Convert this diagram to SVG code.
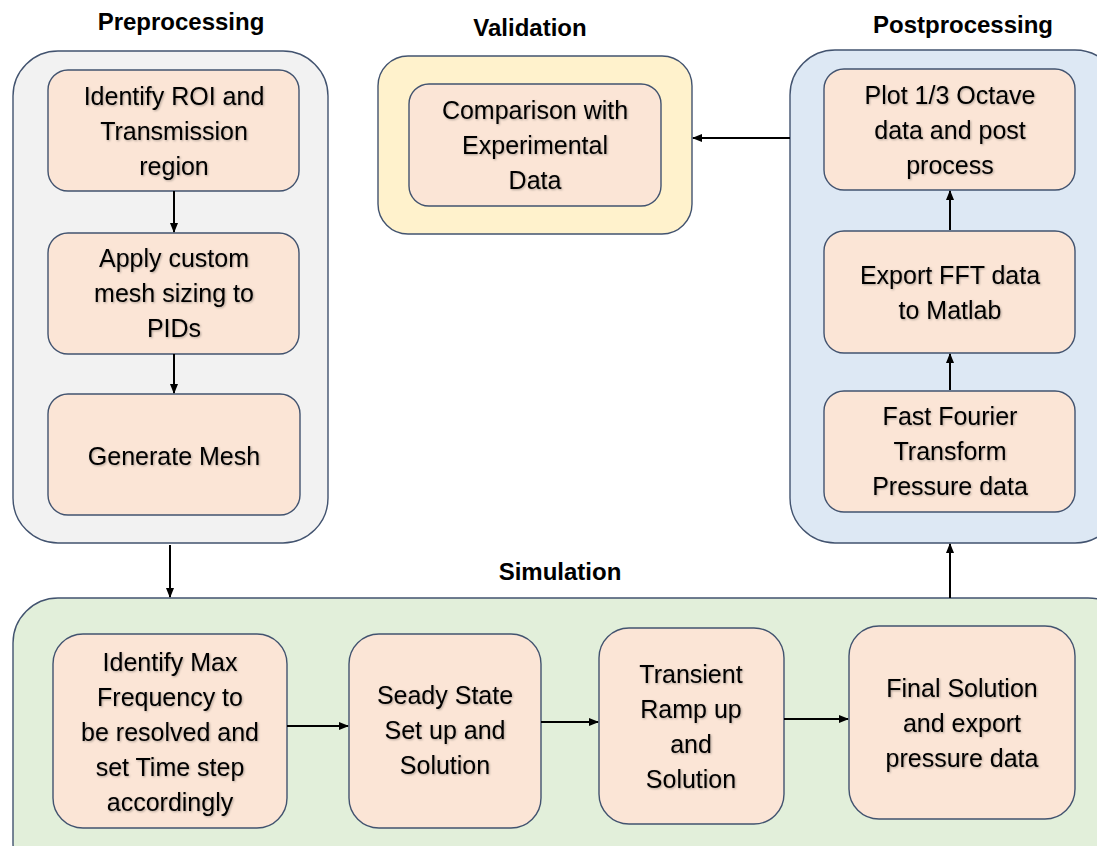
<svg xmlns="http://www.w3.org/2000/svg" width="1097" height="846" viewBox="0 0 1097 846">
<style>
.grp{stroke:#42536f;stroke-width:1.4}
.pre{fill:#f2f2f2}
.val{fill:#fff2cc}
.post{fill:#dde8f4}
.sim{fill:#e2efda}
.box{fill:#fbe5d6;stroke:#42536f;stroke-width:1.4}
.t{font-family:"Liberation Sans",Arial,sans-serif;font-size:25px;fill:#000;text-anchor:middle;filter:url(#sh)}
.h{font-family:"Liberation Sans",Arial,sans-serif;font-size:24px;font-weight:bold;fill:#000;text-anchor:middle}
.c{stroke:#000;stroke-width:2;fill:none;marker-end:url(#ah)}
</style>
<defs>
<marker id="ah" markerWidth="10" markerHeight="10" refX="9" refY="5" orient="auto" markerUnits="userSpaceOnUse">
<path d="M0,1 L10,5 L0,9 Z" fill="#000"/>
</marker>
<filter id="sh" x="-5%" y="-20%" width="110%" height="150%">
<feDropShadow dx="1" dy="1" stdDeviation="0.8" flood-color="#000" flood-opacity="0.3"/>
</filter>
</defs>

<text class="h" x="181" y="30">Preprocessing</text>
<text class="h" x="530" y="36">Validation</text>
<text class="h" x="963" y="33">Postprocessing</text>
<text class="h" x="560" y="580">Simulation</text>

<g id="preprocessing">
<rect class="grp pre" x="13" y="51" width="315" height="492" rx="45"/>
</g>
<g id="validation">
<rect class="grp val" x="378" y="56" width="314" height="178" rx="30"/>
</g>
<g id="postprocessing">
<rect class="grp post" x="790" y="50" width="330" height="493" rx="45"/>
</g>
<g id="simulation">
<rect class="grp sim" x="13" y="598" width="1120" height="290" rx="45"/>
</g>

<g id="identify-roi">
<rect class="box" x="48" y="70" width="251" height="121" rx="20"/>
<text class="t" x="174" y="105">Identify ROI and</text>
<text class="t" x="174" y="140">Transmission</text>
<text class="t" x="174" y="175">region</text>
</g>
<g id="apply-mesh">
<rect class="box" x="48" y="233" width="251" height="121" rx="20"/>
<text class="t" x="174" y="267">Apply custom</text>
<text class="t" x="174" y="302">mesh sizing to</text>
<text class="t" x="174" y="337">PIDs</text>
</g>
<g id="generate-mesh">
<rect class="box" x="48" y="394" width="252" height="121" rx="20"/>
<text class="t" x="174" y="465">Generate Mesh</text>
</g>

<g id="comparison">
<rect class="box" x="409" y="84" width="252" height="122" rx="20"/>
<text class="t" x="535" y="119">Comparison with</text>
<text class="t" x="535" y="154">Experimental</text>
<text class="t" x="535" y="189">Data</text>
</g>

<g id="plot-octave">
<rect class="box" x="824" y="69" width="251" height="121" rx="20"/>
<text class="t" x="950" y="104">Plot 1/3 Octave</text>
<text class="t" x="950" y="139">data and post</text>
<text class="t" x="950" y="174">process</text>
</g>
<g id="export-fft">
<rect class="box" x="824" y="231" width="251" height="122" rx="20"/>
<text class="t" x="950" y="284">Export FFT data</text>
<text class="t" x="950" y="319">to Matlab</text>
</g>
<g id="fft">
<rect class="box" x="824" y="391" width="251" height="121" rx="20"/>
<text class="t" x="950" y="425">Fast Fourier</text>
<text class="t" x="950" y="460">Transform</text>
<text class="t" x="950" y="495">Pressure data</text>
</g>

<g id="identify-max">
<rect class="box" x="53" y="634" width="234" height="194" rx="30"/>
<text class="t" x="170" y="671">Identify Max</text>
<text class="t" x="170" y="706">Frequency to</text>
<text class="t" x="170" y="741">be resolved and</text>
<text class="t" x="170" y="776">set Time step</text>
<text class="t" x="170" y="811">accordingly</text>
</g>
<g id="steady-state">
<rect class="box" x="349" y="634" width="192" height="194" rx="30"/>
<text class="t" x="445" y="704">Seady State</text>
<text class="t" x="445" y="739">Set up and</text>
<text class="t" x="445" y="774">Solution</text>
</g>
<g id="transient">
<rect class="box" x="599" y="628" width="185" height="196" rx="30"/>
<text class="t" x="691" y="683">Transient</text>
<text class="t" x="691" y="718">Ramp up</text>
<text class="t" x="691" y="753">and</text>
<text class="t" x="691" y="788">Solution</text>
</g>
<g id="final-solution">
<rect class="box" x="849" y="626" width="226" height="193" rx="30"/>
<text class="t" x="962" y="697">Final Solution</text>
<text class="t" x="962" y="732">and export</text>
<text class="t" x="962" y="767">pressure data</text>
</g>

<g id="connectors">
<line class="c" x1="174" y1="191" x2="174" y2="232"/>
<line class="c" x1="174" y1="354" x2="174" y2="393"/>
<line class="c" x1="170" y1="545" x2="170" y2="597"/>
<line class="c" x1="790" y1="138" x2="693" y2="138"/>
<line class="c" x1="950" y1="230" x2="950" y2="191"/>
<line class="c" x1="950" y1="390" x2="950" y2="354"/>
<line class="c" x1="950" y1="598" x2="950" y2="544"/>
<line class="c" x1="287" y1="726" x2="348" y2="726"/>
<line class="c" x1="541" y1="722" x2="598" y2="722"/>
<line class="c" x1="784" y1="719" x2="848" y2="719"/>
</g>
</svg>
